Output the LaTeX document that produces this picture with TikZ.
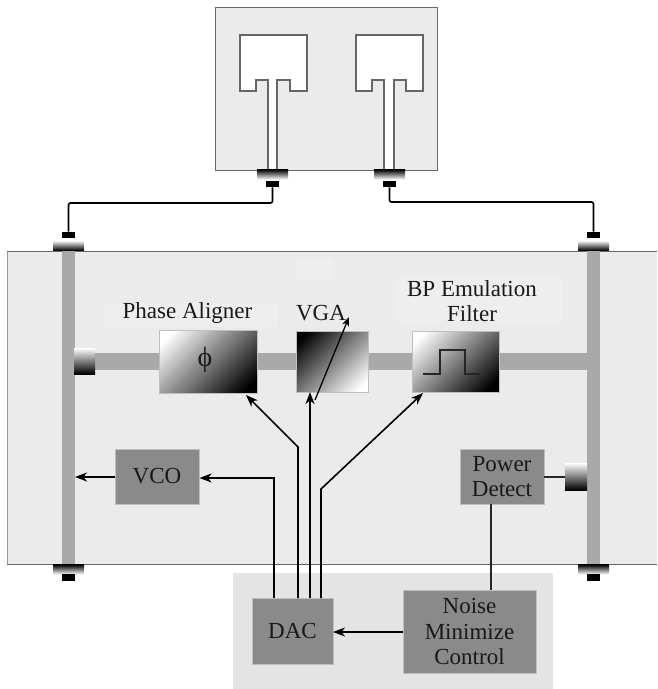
\documentclass[tikz,border=0pt]{standalone}
\usepackage{fontspec}
\setmainfont{Liberation Serif}
\usetikzlibrary{arrows.meta}
\definecolor{boardgray}{HTML}{EBEBEB}
\definecolor{ctrlgray}{HTML}{E4E4E4}
\definecolor{busgray}{HTML}{A9A9A9}
\definecolor{blockgray}{HTML}{8A8A8A}
\definecolor{edgegray}{HTML}{666666}
\definecolor{labelgray}{HTML}{EEEEEE}
\pgfdeclareverticalshading{diagfade}{100bp}{color(0bp)=(black); color(21bp)=(black); color(79bp)=(white); color(100bp)=(white)}
\begin{document}
\begin{tikzpicture}[x=1pt,y=-1pt]
	\tikzstyle{every node}+=[inner sep=0pt,text=black!90,font=\fontsize{23}{25.5}\selectfont]
	\tikzstyle{block}=[fill=blockgray,draw=black!25,line width=0.5pt,align=center]
	\tikzstyle{fadeblock}=[shade,shading=diagfade,draw=black!25,line width=0.5pt]
	\tikzstyle{pin}=[fill=black,minimum width=13pt,minimum height=6.5pt]
	\tikzstyle{flange}=[minimum width=31pt,minimum height=10pt]
	\tikzstyle{wire}=[black,line width=1.6pt]
	\tikzstyle{arrowwire}=[wire,-{Stealth[length=12pt,width=9pt,inset=3.5pt]}]
	\useasboundingbox (0,0) rectangle (657,689);
	% antenna card
	\draw [fill=boardgray,draw=edgegray,line width=1pt] (215,7) rectangle (437.5,170);
	\draw [fill=white,draw=edgegray,line width=1.1pt] (240,35) -- (307,35) -- (307,91) -- (290,91) -- (290,80) -- (277,80) -- (277,170) -- (268,170) -- (268,80) -- (256,80) -- (256,91) -- (240,91) -- cycle;
	\draw [fill=white,draw=edgegray,line width=1.1pt] (356,35) -- (423,35) -- (423,91) -- (406,91) -- (406,80) -- (394,80) -- (394,170) -- (384,170) -- (384,80) -- (372,80) -- (372,91) -- (356,91) -- cycle;
	% board and control area
	\fill [boardgray] (7,251) rectangle (657,564.5);
	\draw [black!40,line width=0.6pt] (7,251) -- (7,564.5);
	\draw [edgegray,line width=1pt] (7,251) -- (657,251);
	\draw [edgegray,line width=1pt] (7,564.5) -- (657,564.5);
	\fill [ctrlgray] (233,573) rectangle (553,689);
	\fill [labelgray] (105,303) rectangle (278,327);
	\fill [labelgray] (397,278) rectangle (562,322);
	\fill [labelgray] (297,260) rectangle (333,280);
	% buses
	\fill [busgray] (62,251) rectangle (75,564.5);
	\fill [busgray] (587,251) rectangle (600,564.5);
	\fill [busgray] (95,353) rectangle (587,370);
	% connectors
	\node (flangea) [flange,shade,top color=black,bottom color=white] at (272.5,174.5) {};
	\node (flangeb) [flange,shade,top color=black,bottom color=white] at (389.5,174.5) {};
	\node (flangec) [flange,shade,top color=white,bottom color=black] at (68.5,245.5) {};
	\node (flanged) [flange,shade,top color=white,bottom color=black] at (593.5,245.5) {};
	\node (flangee) [flange,shade,top color=black,bottom color=white] at (68.5,569.5) {};
	\node (flangef) [flange,shade,top color=black,bottom color=white] at (593.5,569.5) {};
	\node (pina) [pin] at (272.5,184) {};
	\node (pinb) [pin] at (389.5,184) {};
	\node (pinc) [pin] at (68.5,235) {};
	\node (pind) [pin] at (593.5,235) {};
	\node (pine) [pin] at (68,577.5) {};
	\node (pinf) [pin] at (593,577.5) {};
	\coordinate (benda) at (68.5,203);
	\coordinate (bendb) at (593.5,202);
	\draw [wire,rounded corners=2pt] (pina.south) |- (benda) -- (pinc.north);
	\draw [wire,rounded corners=2pt] (pinb.south) |- (bendb) -- (pind.north);
	% couplers
	\node (couplera) [shade,top color=white,bottom color=black,minimum width=21pt,minimum height=26pt] at (84.5,361) {};
	\node (couplerb) [shade,top color=white,bottom color=black,minimum width=22pt,minimum height=27pt] at (576,476.5) {};
	% rf path blocks
	\node (phase) [fadeblock,shading angle=45,minimum width=98pt,minimum height=63pt] at (208,361.5) {};
	\node (vga) [fadeblock,shading angle=225,minimum width=72pt,minimum height=61pt] at (332,361.5) {};
	\node (bpf) [fadeblock,shading angle=45,minimum width=87pt,minimum height=61pt] at (455.5,361.5) {};
	\node (phi) [font=\fontsize{28}{30}\selectfont] at (205,360) {ϕ};
	\draw [black!85,line width=1.3pt] (423,374) -- (440,374) -- (440,350) -- (465,350) -- (465,374) -- (480,374);
	\coordinate (vgatail) at (315,400);
	\coordinate (vgahead) at (349,317);
	\draw [black,line width=1.3pt,-{Stealth[length=9pt,width=7pt,inset=2.5pt]}] (vgatail) -- (vgahead);
	\node (phaselabel) at (187.5,313) {Phase Aligner};
	\node (vgalabel) at (321,313) {VGA};
	\node (bplabel) [align=center] at (472,301) {BP Emulation\\Filter};
	% baseband blocks
	\node (vco) [block,minimum width=84pt,minimum height=55pt] at (157,476.5) {VCO};
	\node (power) [block,minimum width=84pt,minimum height=55pt] at (502,476.5) {Power\\Detect};
	\node (dac) [block,minimum width=81pt,minimum height=66pt] at (292.5,631) {DAC};
	\node (noise) [block,minimum width=133pt,minimum height=83pt] at (469.5,631.5) {Noise\\Minimize\\Control};
	% control wires
	\coordinate (daca) at (274,598);
	\coordinate (dacb) at (298,598);
	\coordinate (dacc) at (310,598);
	\coordinate (dacd) at (321,598);
	\coordinate (kinkb) at (298,447);
	\coordinate (kinkd) at (321,489);
	\coordinate (phasein) at (246,395);
	\coordinate (vgain) at (310,392);
	\coordinate (bpfin) at (423,393);
	\coordinate (vcoin) at (199.5,478);
	\coordinate (vcoout) at (115,477);
	\coordinate (busin) at (75,477);
	\coordinate (powertap) at (491,504);
	\coordinate (noisetap) at (491,590);
	\coordinate (poweri) at (544,477);
	\coordinate (couplerin) at (565,477);
	\coordinate (noiseout) at (403,632);
	\coordinate (dacin) at (333,632);
	\draw [arrowwire] (daca) |- (vcoin);
	\draw [arrowwire] (dacb) -- (kinkb) -- (phasein);
	\draw [arrowwire] (dacc) -- (vgain);
	\draw [arrowwire] (dacd) -- (kinkd) -- (bpfin);
	\draw [arrowwire] (vcoout) -- (busin);
	\draw [arrowwire] (noiseout) -- (dacin);
	\draw [wire,black!85] (powertap) -- (noisetap);
	\draw [wire,black!85] (poweri) -- (couplerin);
\end{tikzpicture}
\end{document}
